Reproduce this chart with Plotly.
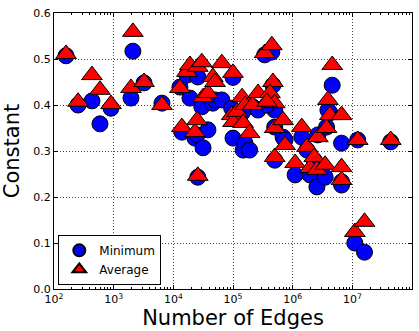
import plotly.graph_objects as go

# Number of edges per graph (x), minimum and average constant (y)
edges = [159, 253, 433, 590, 902, 1950, 2100, 3230, 6450,
         12900, 13900, 16900, 19000, 23000, 25000, 25700, 25700, 30000, 31500,
         38000, 46000, 50000, 65000, 95000, 100000, 100000, 117000, 142000,
         148000, 159000, 190000, 214000, 263000, 340000, 447000, 467000,
         417000, 500000, 371000, 500000, 500000, 690000, 745000,
         1100000, 1420000, 1950000, 1740000, 2300000, 2550000, 2640000,
         3500000, 3700000, 4200000, 3900000, 4600000, 6600000, 6600000,
         6600000, 11000000, 12300000, 16000000, 44000000]
min_const = [0.507, 0.400, 0.409, 0.359, 0.393, 0.415, 0.517, 0.448, 0.404,
             0.439, 0.341, 0.465, 0.415, 0.328, 0.335, 0.243, 0.461, 0.396, 0.307,
             0.346, 0.404, 0.411, 0.411, 0.393, 0.328, 0.460, 0.383, 0.383,
             0.302, 0.317, 0.302, 0.396, 0.389, 0.509, 0.515, 0.443,
             0.411, 0.389, 0.400, 0.352, 0.280, 0.330, 0.324,
             0.248, 0.330, 0.248, 0.302, 0.280, 0.222, 0.335,
             0.243, 0.352, 0.383, 0.389, 0.443, 0.317, 0.233,
             0.226, 0.100, 0.324, 0.080, 0.320]
avg_const = [0.511, 0.407, 0.465, 0.433, 0.402, 0.437, 0.559, 0.450, 0.400,
             0.437, 0.352, 0.472, 0.487, 0.341, 0.367, 0.246, 0.483, 0.493, 0.417,
             0.426, 0.461, 0.450, 0.491, 0.378, 0.363, 0.470, 0.385, 0.417,
             0.361, 0.400, 0.339, 0.400, 0.426, 0.513, 0.530, 0.450,
             0.426, 0.404, 0.407, 0.350, 0.287, 0.367, 0.313,
             0.274, 0.352, 0.263, 0.309, 0.287, 0.259, 0.330,
             0.270, 0.350, 0.378, 0.411, 0.487, 0.378, 0.265,
             0.237, 0.124, 0.324, 0.146, 0.324]

x_tickvals = [1e2, 1e3, 1e4, 1e5, 1e6, 1e7, 1e8]
x_ticktext = ["10<sup>2</sup>", "10<sup>3</sup>", "10<sup>4</sup>", "10<sup>5</sup>",
              "10<sup>6</sup>", "10<sup>7</sup>", "10<sup>8</sup>"]
x_minor_vals = [m * 10 ** e for e in range(2, 8) for m in range(2, 10)]
y_tickvals = [0.0, 0.1, 0.2, 0.3, 0.4, 0.5, 0.6]
y_ticktext = ["0.0", "0.1", "0.2", "0.3", "0.4", "0.5", "0.6"]

FONT = "DejaVu Sans"

fig = go.Figure()
fig.add_trace(go.Scatter(
    x=edges, y=min_const, mode="markers", name="Minimum",
    marker=dict(symbol="circle", size=16, color="#0000ff",
                line=dict(color="black", width=1)),
))
fig.add_trace(go.Scatter(
    x=edges, y=avg_const, mode="markers", name="Average",
    marker=dict(symbol="triangle-up", size=18, color="#ff0000",
                line=dict(color="black", width=1)),
))

axis_common = dict(
    showline=True, linecolor="black", linewidth=1, mirror="allticks",
    ticks="inside", ticklen=4, tickcolor="black",
    showgrid=True, gridcolor="#444444", gridwidth=1, griddash="1px,2px",
    zeroline=False, tickfont=dict(family=FONT, size=11, color="black"),
)

fig.update_xaxes(
    type="log", range=[2, 8], tickmode="array", tickvals=x_tickvals, ticktext=x_ticktext,
    title=dict(text="Number of Edges", font=dict(family=FONT, size=21, color="black"), standoff=4),
    minor=dict(ticks="inside", ticklen=2, tickcolor="black", tickmode="array",
               tickvals=x_minor_vals, showgrid=False),
    **axis_common,
)
fig.update_yaxes(
    range=[0, 0.6], tickmode="array", tickvals=y_tickvals, ticktext=y_ticktext,
    title=dict(text="Constant", font=dict(family=FONT, size=21, color="black"), standoff=8),
    **axis_common,
)

fig.update_layout(
    width=419, height=331,
    margin=dict(l=54, r=7, t=13, b=42),
    paper_bgcolor="white", plot_bgcolor="white",
    font=dict(family=FONT, color="black"),
    legend=dict(x=0.012, y=0.015, xanchor="left", yanchor="bottom",
                bgcolor="white", bordercolor="black", borderwidth=1,
                font=dict(family=FONT, size=12, color="black"),
                itemsizing="constant", tracegroupgap=0, itemwidth=30),
    showlegend=True,
)

fig.write_html("out.html")
